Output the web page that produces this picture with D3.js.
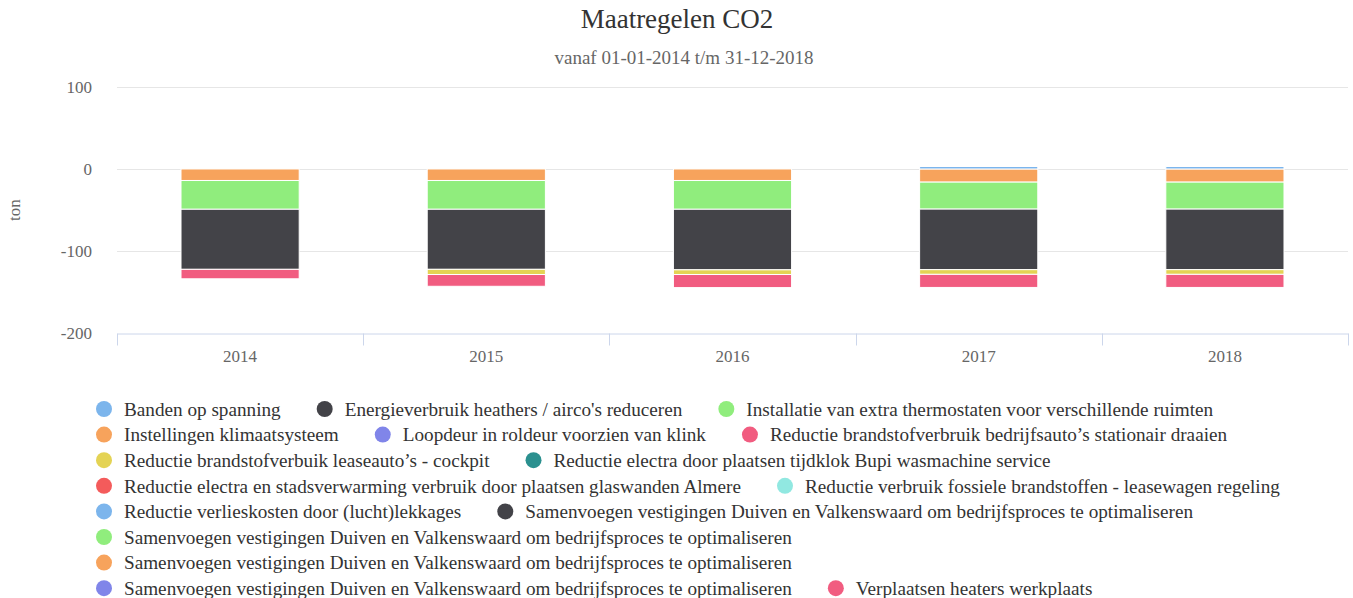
<!DOCTYPE html>
<html>
<head>
<meta charset="utf-8">
<script src="https://cdn.jsdelivr.net/npm/d3@7"></script>
<style>
  body { margin: 0; background: #fff; }
  svg { display: block; font-family: "Liberation Serif", "Times New Roman", serif; }
</style>
</head>
<body>
<svg id="chart" width="1353" height="598"></svg>
<script>
// --- data ---
const years = ["2014", "2015", "2016", "2017", "2018"];
const yTicks = [100, 0, -100, -200];

const seriesNames = [
  "Banden op spanning",
  "Energieverbruik heathers / airco's reduceren",
  "Installatie van extra thermostaten voor verschillende ruimten",
  "Instellingen klimaatsysteem",
  "Loopdeur in roldeur voorzien van klink",
  "Reductie brandstofverbruik bedrijfsauto\u2019s stationair draaien",
  "Reductie brandstofverbuik leaseauto\u2019s - cockpit",
  "Reductie electra door plaatsen tijdklok Bupi wasmachine service",
  "Reductie electra en stadsverwarming verbruik door plaatsen glaswanden Almere",
  "Reductie verbruik fossiele brandstoffen - leasewagen regeling",
  "Reductie verlieskosten door (lucht)lekkages",
  "Samenvoegen vestigingen Duiven en Valkenswaard om bedrijfsproces te optimaliseren",
  "Samenvoegen vestigingen Duiven en Valkenswaard om bedrijfsproces te optimaliseren",
  "Samenvoegen vestigingen Duiven en Valkenswaard om bedrijfsproces te optimaliseren",
  "Samenvoegen vestigingen Duiven en Valkenswaard om bedrijfsproces te optimaliseren",
  "Verplaatsen heaters werkplaats"
];
const palette = ["#7cb5ec", "#434348", "#90ed7d", "#f7a35c", "#8085e9",
                 "#f15c80", "#e4d354", "#2b908f", "#f45b5b", "#91e8e1"];

// values per year (ton), only the series that show up in the bars
const bandenOpSpanning   = [0, 0, 0, 3, 3];
const stationairDraaien  = [-11.5, -14.3, -15.9, -15.9, -15.9];
const leaseautoCockpit   = [0, -6.3, -5.7, -5.7, -5.7];
const samenvoegenDonker  = [-73, -73, -73.6, -73.6, -73.6];
const samenvoegenGroen   = [-35, -35, -35, -32.8, -32.8];
const samenvoegenOranje  = [-14, -14, -14, -16, -16];

const zero = years.map(() => 0);
const seriesValues = seriesNames.map(() => zero);
seriesValues[0] = bandenOpSpanning;
seriesValues[5] = stationairDraaien;
seriesValues[6] = leaseautoCockpit;
seriesValues[11] = samenvoegenDonker;
seriesValues[12] = samenvoegenGroen;
seriesValues[13] = samenvoegenOranje;

// --- layout ---
const svg = d3.select("#chart");
const plot = { left: 117, right: 1348, top: 86.7, bottom: 333.5 };

const x = d3.scaleBand().domain(years).range([plot.left, plot.right]).padding(0);
const y = d3.scaleLinear().domain([-200, 100]).range([plot.bottom, plot.top]);

svg.append("text").attr("x", 677).attr("y", 28).attr("text-anchor", "middle")
  .attr("font-size", 27).attr("fill", "#333").text("Maatregelen CO2");
svg.append("text").attr("x", 684).attr("y", 64).attr("text-anchor", "middle")
  .attr("font-size", 19).attr("fill", "#666").text("vanaf 01-01-2014 t/m 31-12-2018");

// gridlines
svg.append("g").selectAll("line").data(yTicks.filter(d => d > -200)).join("line")
  .attr("x1", plot.left).attr("x2", plot.right)
  .attr("y1", d => Math.round(y(d)) + 0.5).attr("y2", d => Math.round(y(d)) + 0.5)
  .attr("stroke", "#e6e6e6");

// y labels
svg.append("g").selectAll("text").data(yTicks).join("text")
  .attr("x", 92).attr("y", d => y(d)).attr("dy", "0.35em").attr("text-anchor", "end")
  .attr("font-size", 17).attr("fill", "#666").text(d => d);

svg.append("text").attr("transform", `translate(20,${(plot.top + plot.bottom) / 2}) rotate(-90)`)
  .attr("text-anchor", "middle").attr("font-size", 17).attr("fill", "#666").text("ton");

// x axis
const xAxis = svg.append("g").attr("transform", `translate(0,${Math.round(plot.bottom) - 0.5})`)
  .call(d3.axisBottom(x).tickSize(0).tickPadding(16));
xAxis.select(".domain").attr("stroke", "#ccd6eb");
xAxis.selectAll("text").attr("font-size", 17).attr("fill", "#666")
  .attr("font-family", "Liberation Serif, serif");
const edges = years.map(d => x(d)).concat([plot.right]);
xAxis.selectAll(".edge").data(edges).join("line").attr("class", "edge")
  .attr("x1", d => Math.round(d) + 0.5).attr("x2", d => Math.round(d) + 0.5)
  .attr("y1", 0).attr("y2", 12).attr("stroke", "#ccd6eb");

// stacked bars (last series sits nearest to zero, Highcharts style)
const rects = [];
years.forEach((yr, i) => {
  let pos = 0, neg = 0;
  for (let s = seriesNames.length - 1; s >= 0; s--) {
    const v = seriesValues[s][i];
    if (!v) continue;
    let y0, y1;
    if (v >= 0) { y0 = pos; y1 = pos + v; pos = y1; }
    else { y0 = neg; y1 = neg + v; neg = y1; }
    rects.push({ year: yr, s, y0, y1 });
  }
});
const bw = x.bandwidth() * 0.48;
svg.append("g").selectAll("rect").data(rects).join("rect")
  .attr("x", d => x(d.year) + (x.bandwidth() - bw) / 2)
  .attr("width", bw)
  .attr("y", d => y(Math.max(d.y0, d.y1)))
  .attr("height", d => Math.abs(y(d.y0) - y(d.y1)))
  .attr("fill", d => palette[d.s % palette.length])
  .attr("stroke", "#fff").attr("stroke-width", 1);

// legend, wrapped rows
const legend = svg.append("g");
const lgLeft = 96, lgRight = 1340, rowH = 25.6, row0 = 409;
let lx = lgLeft, row = 0;
seriesNames.forEach((name, i) => {
  const g = legend.append("g");
  const t = g.append("text").attr("x", 28).attr("dy", "0.35em")
    .attr("font-size", 19.2).attr("fill", "#333").text(name);
  const w = 28 + t.node().getComputedTextLength();
  if (lx > lgLeft && lx + w > lgRight) { row++; lx = lgLeft; }
  g.append("circle").attr("cx", 8).attr("cy", 0).attr("r", 8)
    .attr("fill", palette[i % palette.length]);
  g.attr("transform", `translate(${lx},${row0 + row * rowH})`);
  lx += w + 36;
});
</script>
</body>
</html>
